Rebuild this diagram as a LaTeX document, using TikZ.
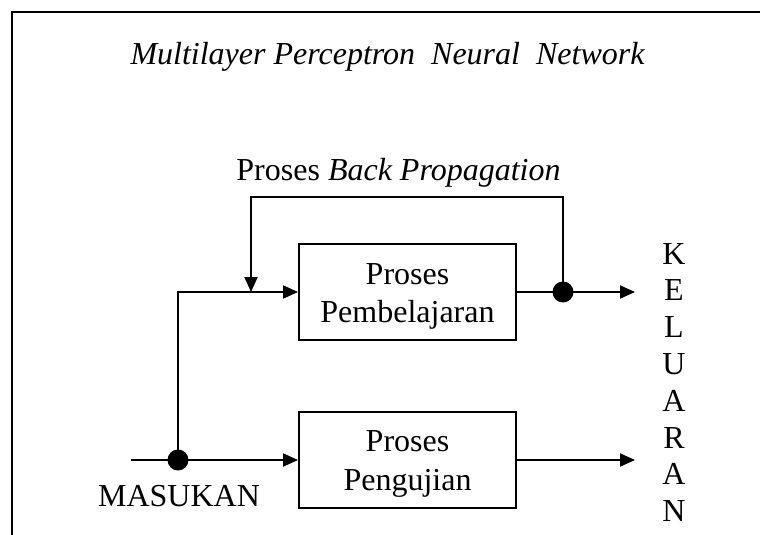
\documentclass[tikz,border=0pt]{standalone}
\usepackage{fontspec}
\setmainfont{Liberation Serif}
\usetikzlibrary{arrows.meta}
\begin{document}
\begin{tikzpicture}[x=1pt,y=-1pt, line width=1.9pt,
  every node/.style={font=\fontsize{32}{38}\selectfont, inner sep=0pt},
  procbox/.style={draw, minimum width=217pt, minimum height=96pt},
  txt/.style={anchor=base},
  flow/.style={-{Triangle[length=15pt,width=13pt]}},
  junction/.style={circle, fill=black, minimum size=21pt, inner sep=0pt}]
\useasboundingbox (0,0) rectangle (760,535);
% page frame (left and top rules)
\draw (12,535) -- (12,12) -- (760,12);

% titles
\node[txt] (title) at (387.5,65) {\itshape Multilayer Perceptron\ \ Neural\ \ Network};
\node[txt] (bplabel) at (398.5,180) {Proses \textit{Back Propagation}};

% process blocks and their two-line captions
\node[procbox] (learn) at (407.5,292) {};
\node[txt] (learnA) at (407.5,284.3) {Proses};
\node[txt] (learnB) at (407.5,322) {Pembelajaran};
\node[procbox] (test) at (407.5,460) {};
\node[txt] (testA) at (407.5,451.7) {Proses};
\node[txt] (testB) at (407.5,490) {Pengujian};

% helper points
\coordinate (src) at (131,460);
\coordinate (fbR) at (563,197);
\coordinate (fbL) at (251,197);
\coordinate (fbtip) at (251,292);
\coordinate (outL) at (635,292);
\coordinate (outT) at (635,460);
\coordinate (jinP) at (178,460);
\coordinate (joutP) at (563,292);

% connectors
\draw (src) -- (jinP);
\draw[flow] (jinP) -- (test.west);
\draw[flow] (jinP) |- (learn.west);
\draw (learn.east) -- (joutP);
\draw[flow] (joutP) -- (outL);
\draw[flow] (test.east) -- (outT);
\draw[flow] (joutP) -- (fbR) -- (fbL) -- (fbtip);

% junction dots
\node[junction] (jin) at (jinP) {};
\node[junction] (jout) at (joutP) {};

% labels
\node[txt] (masukan) at (179,506.7) {MASUKAN};
\foreach \c [count=\i] in {K,E,L,U,A,R,A,N}
  \node[txt] (keluar\i) at (674,{264+36.8*(\i-1)}) {\c};
\end{tikzpicture}
\end{document}
